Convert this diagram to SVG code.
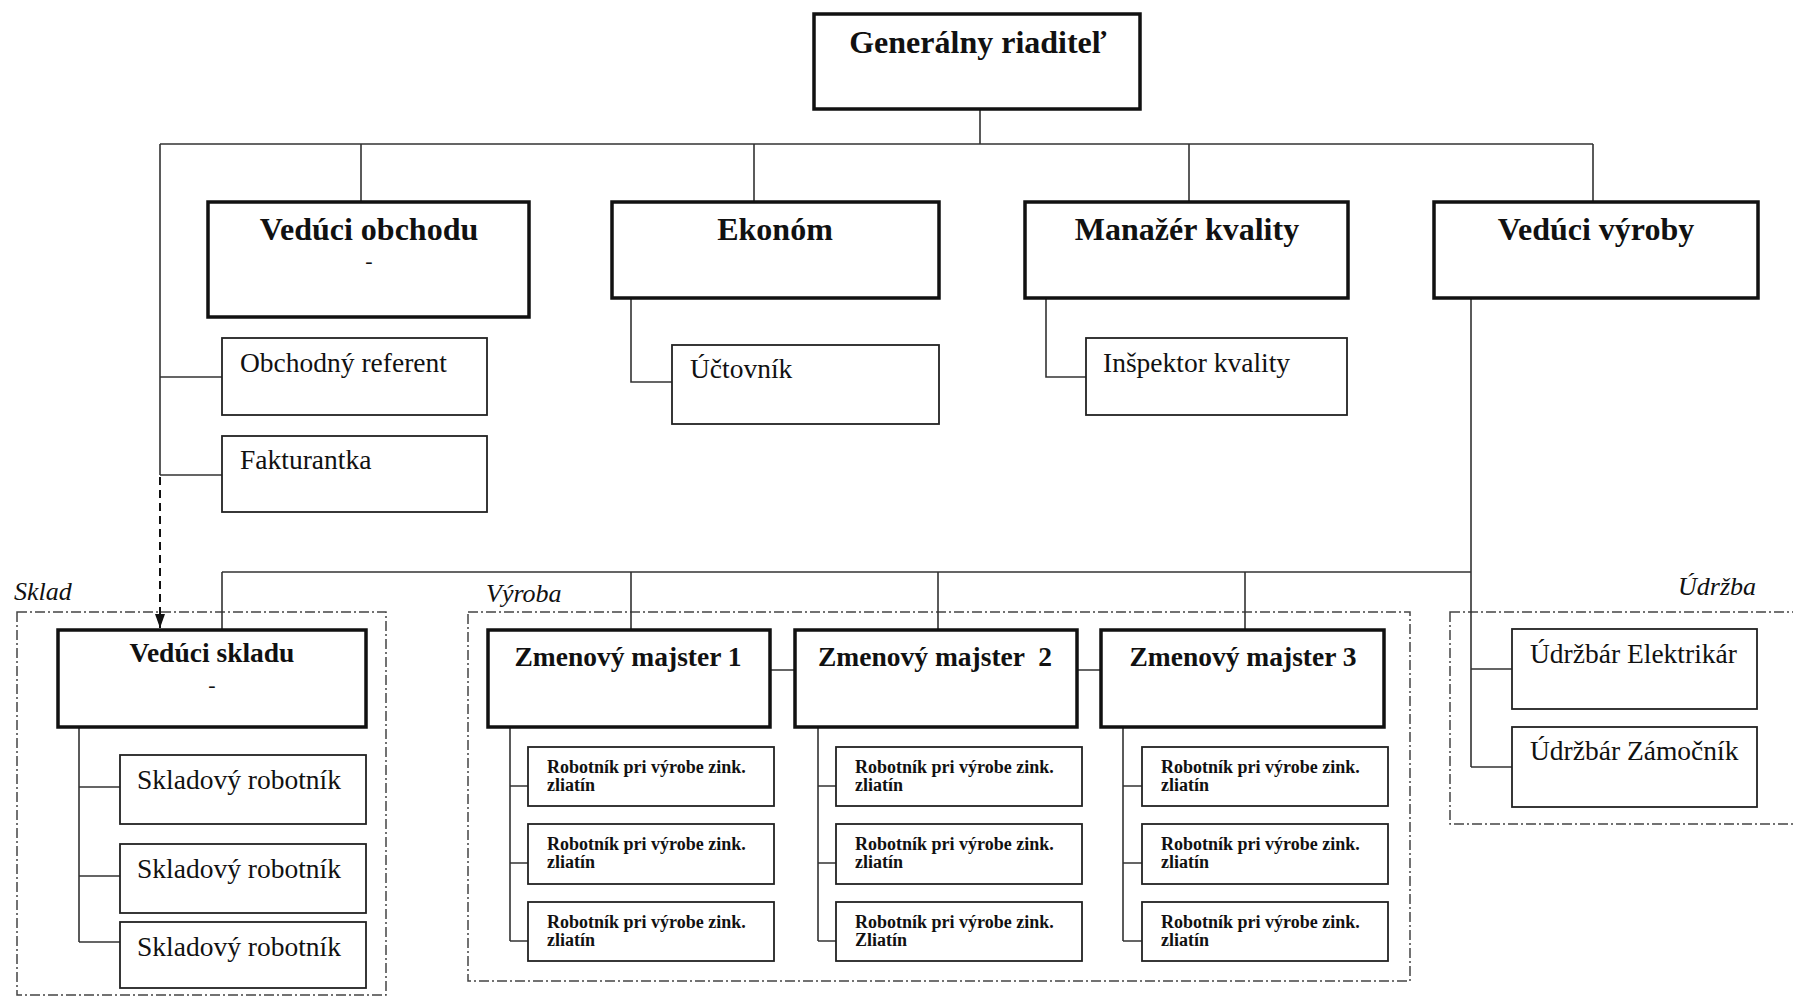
<svg xmlns="http://www.w3.org/2000/svg" width="1793" height="999" viewBox="0 0 1793 999">
<style>
.thick{fill:#fff;stroke:#111;stroke-width:3.5}
.thin{fill:#fff;stroke:#222;stroke-width:1.8}
.grp{fill:none;stroke:#444;stroke-width:1.5;stroke-dasharray:10 3 2 3}
.ln{fill:none;stroke:#333;stroke-width:1.6}
.dash{fill:none;stroke:#111;stroke-width:2;stroke-dasharray:8 5}
.t{font-family:"Liberation Serif","Times New Roman",serif;fill:#111}
.h1{font-size:32px;font-weight:bold;text-anchor:middle}
.h2{font-size:32px;font-weight:bold;text-anchor:middle}
.h3{font-size:27.5px;font-weight:bold;text-anchor:middle}
.r{font-size:27.5px}
.s{font-size:18px;font-weight:bold}
.it{font-size:26px;font-style:italic}
.dsh{font-size:22px;text-anchor:middle}
</style>
<defs>
<marker id="arr" viewBox="0 0 14 10" refX="14" refY="5" markerWidth="14" markerHeight="10" orient="auto" markerUnits="userSpaceOnUse">
<path d="M0,0 L14,5 L0,10 z" fill="#111"/>
</marker>
</defs>

<g id="groups">
<rect class="grp" x="17" y="612" width="369" height="383"/>
<text class="t it" x="14" y="600">Sklad</text>
<rect class="grp" x="468" y="612" width="942" height="369"/>
<text class="t it" x="486" y="602">Výroba</text>
<rect class="grp" x="1450" y="612" width="360" height="212"/>
<text class="t it" x="1756" y="595" text-anchor="end">Údržba</text>
</g>

<g id="connectors">
<path class="ln" d="M980 109V144M160 144H1593M361 144V202M754 144V202M1189 144V202M1593 144V202"/>
<path class="ln" d="M160 144V475M160 377H222M160 475H222"/>
<path class="dash" d="M160 477V628" marker-end="url(#arr)"/>
<path class="ln" d="M631 298V382H672"/>
<path class="ln" d="M1046 298V377H1086"/>
<path class="ln" d="M1471 298V767M1471 669H1512M1471 767H1512"/>
<path class="ln" d="M1471 572H222M222 572V630M631 572V630M938 572V630M1245 572V630"/>
<path class="ln" d="M770 670H795M1077 670H1101"/>
<path class="ln" d="M79 727V942M79 787H120M79 876H120M79 942H120"/>
<path class="ln" d="M510 727V941M510 786H528M510 863H528M510 941H528"/>
<path class="ln" d="M818 727V941M818 786H836M818 863H836M818 941H836"/>
<path class="ln" d="M1123 727V941M1123 786H1142M1123 863H1142M1123 941H1142"/>
</g>

<g id="n-gr"><rect class="thick" x="814" y="14" width="326" height="95"/><text class="t h1" x="978" y="53">Generálny riaditeľ</text></g>
<g id="n-vo"><rect class="thick" x="208" y="202" width="321" height="115"/><text class="t h2" x="369" y="240">Vedúci obchodu</text><text class="t dsh" x="369" y="268">-</text></g>
<g id="n-ek"><rect class="thick" x="612" y="202" width="327" height="96"/><text class="t h2" x="775" y="240">Ekonóm</text></g>
<g id="n-mk"><rect class="thick" x="1025" y="202" width="323" height="96"/><text class="t h2" x="1187" y="240">Manažér kvality</text></g>
<g id="n-vv"><rect class="thick" x="1434" y="202" width="324" height="96"/><text class="t h2" x="1596" y="240">Vedúci výroby</text></g>

<g id="n-or"><rect class="thin" x="222" y="338" width="265" height="77"/><text class="t r" x="240" y="372">Obchodný referent</text></g>
<g id="n-fa"><rect class="thin" x="222" y="436" width="265" height="76"/><text class="t r" x="240" y="469">Fakturantka</text></g>
<g id="n-uc"><rect class="thin" x="672" y="345" width="267" height="79"/><text class="t r" x="690" y="378">Účtovník</text></g>
<g id="n-ik"><rect class="thin" x="1086" y="338" width="261" height="77"/><text class="t r" x="1103" y="372">Inšpektor kvality</text></g>

<g id="n-vs"><rect class="thick" x="58" y="630" width="308" height="97"/><text class="t h3" x="212" y="662">Vedúci skladu</text><text class="t dsh" x="212" y="692">-</text></g>
<g id="n-sr1"><rect class="thin" x="120" y="755" width="246" height="69"/><text class="t r" x="137" y="789">Skladový robotník</text></g>
<g id="n-sr2"><rect class="thin" x="120" y="844" width="246" height="69"/><text class="t r" x="137" y="878">Skladový robotník</text></g>
<g id="n-sr3"><rect class="thin" x="120" y="922" width="246" height="66"/><text class="t r" x="137" y="956">Skladový robotník</text></g>

<g id="n-zm1"><rect class="thick" x="488" y="630" width="282" height="97"/><text class="t h3" x="628" y="666">Zmenový majster 1</text></g>
<g id="n-zm2"><rect class="thick" x="795" y="630" width="282" height="97"/><text class="t h3" x="935" y="666" xml:space="preserve">Zmenový majster  2</text></g>
<g id="n-zm3"><rect class="thick" x="1101" y="630" width="283" height="97"/><text class="t h3" x="1243" y="666">Zmenový majster 3</text></g>

<g id="n-r11"><rect class="thin" x="528" y="747" width="246" height="59"/><text class="t s" x="547" y="773">Robotník pri výrobe zink.</text><text class="t s" x="547" y="791">zliatín</text></g>
<g id="n-r12"><rect class="thin" x="528" y="824" width="246" height="60"/><text class="t s" x="547" y="850">Robotník pri výrobe zink.</text><text class="t s" x="547" y="868">zliatín</text></g>
<g id="n-r13"><rect class="thin" x="528" y="902" width="246" height="59"/><text class="t s" x="547" y="928">Robotník pri výrobe zink.</text><text class="t s" x="547" y="946">zliatín</text></g>

<g id="n-r21"><rect class="thin" x="836" y="747" width="246" height="59"/><text class="t s" x="855" y="773">Robotník pri výrobe zink.</text><text class="t s" x="855" y="791">zliatín</text></g>
<g id="n-r22"><rect class="thin" x="836" y="824" width="246" height="60"/><text class="t s" x="855" y="850">Robotník pri výrobe zink.</text><text class="t s" x="855" y="868">zliatín</text></g>
<g id="n-r23"><rect class="thin" x="836" y="902" width="246" height="59"/><text class="t s" x="855" y="928">Robotník pri výrobe zink.</text><text class="t s" x="855" y="946">Zliatín</text></g>

<g id="n-r31"><rect class="thin" x="1142" y="747" width="246" height="59"/><text class="t s" x="1161" y="773">Robotník pri výrobe zink.</text><text class="t s" x="1161" y="791">zliatín</text></g>
<g id="n-r32"><rect class="thin" x="1142" y="824" width="246" height="60"/><text class="t s" x="1161" y="850">Robotník pri výrobe zink.</text><text class="t s" x="1161" y="868">zliatín</text></g>
<g id="n-r33"><rect class="thin" x="1142" y="902" width="246" height="59"/><text class="t s" x="1161" y="928">Robotník pri výrobe zink.</text><text class="t s" x="1161" y="946">zliatín</text></g>

<g id="n-ue"><rect class="thin" x="1512" y="629" width="245" height="80"/><text class="t r" x="1530" y="663">Údržbár Elektrikár</text></g>
<g id="n-uz"><rect class="thin" x="1512" y="727" width="245" height="80"/><text class="t r" x="1530" y="760">Údržbár Zámočník</text></g>
</svg>
